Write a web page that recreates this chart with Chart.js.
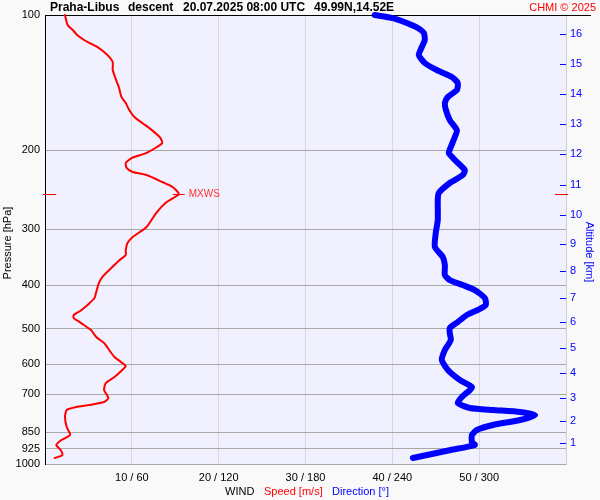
<!DOCTYPE html>
<html>
<head>
<meta charset="utf-8">
<script src="https://cdn.jsdelivr.net/npm/chart.js@4.4.0/dist/chart.umd.min.js"></script>
<style>
html, body { margin: 0; padding: 0; background: #f9f9f9; }
canvas { display: block; }
</style>
</head>
<body>
<canvas id="windChart" width="600" height="500"></canvas>
<script>
// wind speed profile [hPa] / [m/s]
var pressureSpeed = [100, 105.3, 108, 110.8, 113.7, 115.4, 117.8, 120.9, 124, 127.3, 132.6, 138.1, 144.7, 152.2,
  157, 162.7, 168.7, 174, 178.5, 186.9, 192.8, 202.9, 208.2, 213.6, 219.1, 223.7, 227.2, 235.5, 241.6, 250.5,
  261, 276.1, 296.6, 312.2, 322, 333.7, 342.4, 351.3, 369.8, 383.3, 395.3, 414, 426.9, 442.5, 454, 465.8,
  473.1, 482.9, 495.4, 503, 521.4, 537.7, 557.4, 577.7, 595.8, 605, 617.5, 640.1, 660.2, 684.3, 712.9,
  727.7, 739, 746.6, 758.2, 785.8, 827.1, 861.7, 884.2, 907.1, 930.7, 955, 969.7];
var speedMs = [2.3, 2.6, 3.2, 3.7, 4.5, 5.1, 6.0, 6.8, 7.4, 7.8, 7.8, 8.1, 8.5, 8.8,
  9.3, 9.7, 10.3, 11.2, 12.0, 13.2, 13.5, 11.7, 10.0, 9.3, 9.4, 10.1, 11.7, 13.5, 14.7, 15.4,
  14.0, 12.8, 11.7, 10.1, 9.5, 9.3, 9.3, 8.6, 7.4, 6.6, 6.2, 5.9, 5.7, 4.9, 4.2, 3.3,
  3.3, 4.0, 4.8, 5.3, 5.9, 6.8, 7.4, 8.0, 8.9, 9.3, 8.9, 8.0, 7.0, 6.8, 7.3,
  6.8, 5.1, 3.6, 2.5, 2.3, 2.5, 2.9, 1.9, 1.3, 1.8, 2.0, 1.1];

// wind direction profile [hPa] / [deg]
var pressureDir = [100, 101.6, 104.2, 106.9, 109.7, 113.7, 117.8, 122.8, 127.9, 132.6, 137.4, 141.7, 146.9,
  152.2, 157, 162.7, 171.4, 180.4, 186.9, 196.8, 202.9, 210.3, 221.4, 227.2, 236.7, 249.1, 258.2, 286.1,
  305.9, 328.6, 345.9, 360.5, 379.5, 389.3, 399.4, 409.8, 426.9, 442.5, 454, 465.8, 482.9, 497.8, 510.8,
  529.4, 557.4, 586.7, 617.5, 650.1, 673.9, 684.3, 709.3, 731.4, 750.4, 758.2, 765.9, 777.8, 798,
  818.7, 840.1, 861.7, 893.3, 907.1, 930.7, 950, 969.7];
var directionDeg = [227.8, 240.3, 250.0, 257.6, 261.8, 262.4, 260.4, 258.3, 262.4, 270.7, 281.1, 285.2, 284.6,
  278.4, 276.3, 277.0, 279.7, 284.6, 283.2, 280.4, 279.0, 283.2, 290.1, 288.7, 279.7, 272.1, 271.4, 271.4,
  270.0, 269.4, 274.9, 276.3, 276.3, 279.7, 288.7, 297.0, 303.9, 304.6, 299.0, 291.5, 285.2, 279.7, 279.7,
  280.4, 276.3, 274.2, 278.4, 286.7, 295.0, 293.6, 288.0, 285.2, 293.6, 309.5, 328.2, 338.6, 328.2,
  309.5, 298.4, 295.0, 295.0, 297.0, 280.4, 267.3, 254.2];

// axis ticks
var pressureTicks = [100, 200, 300, 400, 500, 600, 700, 850, 925, 1000];
var altitudeKm = [1, 2, 3, 4, 5, 6, 7, 8, 9, 10, 11, 12, 13, 14, 15, 16];
var altitudeHpa = [899.4, 802.2, 711.6, 628.0, 552.6, 483.5, 426.3, 371.7, 324.1, 278.9, 239.1, 204.3,
  175.2, 150.2, 128.8, 110.1];

var FONT = '"Liberation Sans", Arial, sans-serif';
Chart.defaults.font.family = FONT;

function toPoints(xs, ps) {
  return xs.map(function (v, i) { return { x: v, y: ps[i] }; });
}

var windDecor = {
  id: 'windDecor',
  beforeDraw: function (chart) {
    var ctx = chart.ctx, a = chart.chartArea;
    ctx.save();
    ctx.fillStyle = '#f0f0fe';
    ctx.fillRect(a.left, a.top, a.right - a.left, a.bottom - a.top);
    ctx.restore();
  },
  beforeDatasetsDraw: function (chart) {
    var ctx = chart.ctx, a = chart.chartArea;
    ctx.save();
    // top border
    ctx.strokeStyle = '#000';
    ctx.lineWidth = 1;
    ctx.beginPath();
    ctx.moveTo(a.left, a.top + 0.5);
    ctx.lineTo(591, a.top + 0.5);
    ctx.stroke();

    // header
    ctx.textBaseline = 'middle';
    ctx.fillStyle = '#000';
    ctx.font = 'bold 12px ' + FONT;
    ctx.fillText('Praha-Libus', 50, 8);
    ctx.fillText('descent', 128, 8);
    ctx.fillText('20.07.2025 08:00 UTC', 183, 8);
    ctx.fillText('49.99N,14.52E', 314, 8);
    ctx.font = '11px ' + FONT;
    ctx.fillStyle = '#ff0000';
    ctx.textAlign = 'right';
    ctx.fillText('CHMI \u00a9 2025', 596, 8);

    // altitude tick marks (inside)
    var yr = chart.scales.yr;
    ctx.strokeStyle = '#0000ff';
    altitudeHpa.forEach(function (p) {
      var y = Math.round(yr.getPixelForValue(p)) + 0.5;
      ctx.beginPath();
      ctx.moveTo(a.right - 6, y);
      ctx.lineTo(a.right, y);
      ctx.stroke();
    });

    // axis titles
    ctx.textAlign = 'center';
    ctx.fillStyle = '#000';
    ctx.save();
    ctx.translate(8, 243);
    ctx.rotate(-Math.PI / 2);
    ctx.fillText('Pressure [hPa]', 0, 0);
    ctx.restore();
    ctx.save();
    ctx.fillStyle = '#0000ff';
    ctx.translate(589, 252);
    ctx.rotate(Math.PI / 2);
    ctx.fillText('Altitude [km]', 0, 0);
    ctx.restore();

    ctx.textAlign = 'left';
    ctx.fillStyle = '#000';
    ctx.fillText('WIND', 225, 492);
    ctx.fillStyle = '#ff0000';
    ctx.fillText('Speed [m/s]', 264, 492);
    ctx.fillStyle = '#0000ff';
    ctx.fillText('Direction [\u00b0]', 332, 492);
    ctx.restore();
  },
  afterDraw: function (chart) {
    var ctx = chart.ctx, a = chart.chartArea;
    var iMax = 0;
    speedMs.forEach(function (v, i) { if (v > speedMs[iMax]) iMax = i; });
    var px = chart.scales.x.getPixelForValue(speedMs[iMax]);
    var py = Math.round(chart.scales.y.getPixelForValue(pressureSpeed[iMax])) + 0.5;
    ctx.save();
    ctx.strokeStyle = '#ff0000';
    ctx.lineWidth = 1;
    ctx.beginPath();
    ctx.moveTo(px - 6, py); ctx.lineTo(px + 6, py);
    ctx.moveTo(a.left - 2, py); ctx.lineTo(a.left + 11, py);
    ctx.moveTo(a.right - 11, py); ctx.lineTo(a.right + 2, py);
    ctx.stroke();
    ctx.fillStyle = '#ff3030';
    ctx.font = '10px ' + FONT;
    ctx.textBaseline = 'middle';
    ctx.fillText('MXWS', px + 10, py);
    ctx.restore();
  }
};

new Chart(document.getElementById('windChart'), {
  type: 'scatter',
  data: {
    datasets: [{
      label: 'Speed [m/s]',
      data: toPoints(speedMs, pressureSpeed),
      xAxisID: 'x',
      yAxisID: 'y',
      showLine: true,
      borderColor: '#ff0000',
      borderWidth: 2,
      borderCapStyle: 'round',
      borderJoinStyle: 'round',
      pointRadius: 0,
      tension: 0.2,
      clip: false
    }, {
      label: 'Direction [\u00b0]',
      data: toPoints(directionDeg, pressureDir),
      xAxisID: 'xDir',
      yAxisID: 'y',
      showLine: true,
      borderColor: '#0000ff',
      borderWidth: 6,
      borderCapStyle: 'round',
      borderJoinStyle: 'round',
      pointRadius: 0,
      tension: 0.2,
      clip: false
    }]
  },
  options: {
    responsive: false,
    animation: false,
    layout: { padding: { top: 15 } },
    plugins: { legend: { display: false }, tooltip: { enabled: false } },
    scales: {
      x: {
        type: 'linear', position: 'bottom', min: 0, max: 60,
        afterFit: function (s) { s.height = 36; },
        ticks: {
          stepSize: 10, color: '#000', padding: 7, font: { size: 11 },
          callback: function (v) { return (v > 0 && v < 60) ? v + ' / ' + v * 6 : ''; }
        },
        grid: {
          drawTicks: false,
          color: function (c) {
            var v = c.tick ? c.tick.value : 0;
            return (v === 0 || v === 60) ? 'rgba(0,0,0,0)' : '#d8d8d8';
          }
        },
        border: { color: '#a8a8a8' }
      },
      xDir: { type: 'linear', min: 0, max: 360, display: false },
      y: {
        type: 'logarithmic', position: 'left', reverse: true, min: 100, max: 1000,
        afterFit: function (s) { s.width = 45; },
        afterBuildTicks: function (s) { s.ticks = pressureTicks.map(function (v) { return { value: v }; }); },
        ticks: {
          autoSkip: false, color: '#000', padding: 5, font: { size: 11 },
          callback: function (v) { return String(v); }
        },
        grid: {
          drawTicks: false,
          color: function (c) { return (c.tick && c.tick.value === 100) ? 'rgba(0,0,0,0)' : '#a8a8a8'; }
        },
        border: { color: '#000' }
      },
      yr: {
        type: 'logarithmic', position: 'right', reverse: true, min: 100, max: 1000,
        afterFit: function (s) { s.width = 34; },
        afterBuildTicks: function (s) { s.ticks = altitudeHpa.map(function (v) { return { value: v }; }); },
        ticks: {
          autoSkip: false, color: '#0000ff', padding: 4, font: { size: 11 },
          callback: function (v) {
            var i = altitudeHpa.indexOf(v);
            return i >= 0 ? String(altitudeKm[i]) : '';
          }
        },
        grid: { drawOnChartArea: false, drawTicks: false },
        border: { color: '#d0d0d0' }
      }
    }
  },
  plugins: [windDecor]
});
</script>
</body>
</html>
